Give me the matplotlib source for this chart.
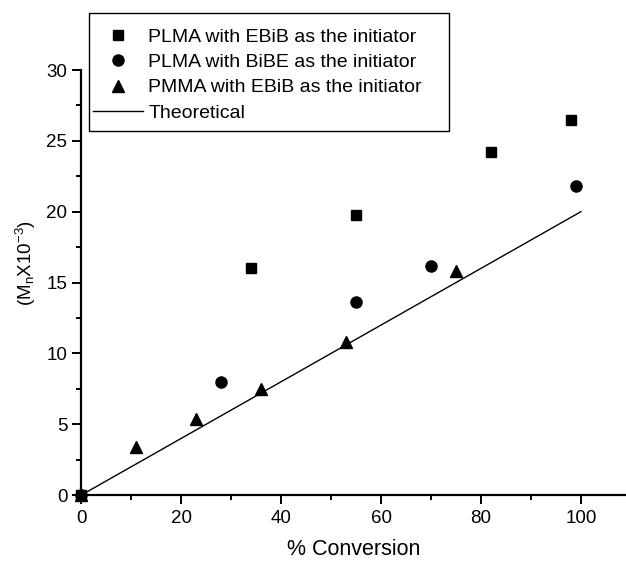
import matplotlib
matplotlib.use("Agg")
import matplotlib.pyplot as plt
from matplotlib.patches import Rectangle
from matplotlib.ticker import MultipleLocator

plt.rcParams["font.family"] = ["Liberation Sans", "DejaVu Sans"]
plt.rcParams["font.size"] = 13.5
plt.rcParams["mathtext.fontset"] = "custom"
plt.rcParams["mathtext.rm"] = "Liberation Sans"
plt.rcParams["mathtext.it"] = "Liberation Sans"

# data
conv_ebib_plma = [0, 34, 55, 82, 98]
mn_ebib_plma = [0, 16.0, 19.8, 24.2, 26.5]

conv_bibe_plma = [0, 28, 55, 70, 99]
mn_bibe_plma = [0, 8.0, 13.6, 16.2, 21.8]

conv_ebib_pmma = [0, 11, 23, 36, 53, 75]
mn_ebib_pmma = [0, 3.4, 5.4, 7.5, 10.8, 15.8]

conv_theory = [0, 100]
mn_theory = [0, 20]

fig = plt.figure(figsize=(6.26, 5.61), dpi=100)
ax = fig.add_axes([0.130, 0.1176, 0.869, 0.7576])

ax.plot(conv_ebib_plma, mn_ebib_plma, "s", color="black", markersize=7.5,
        clip_on=False, zorder=5, label="PLMA with EBiB as the initiator")
ax.plot(conv_bibe_plma, mn_bibe_plma, "o", color="black", markersize=8,
        clip_on=False, zorder=5, label="PLMA with BiBE as the initiator")
ax.plot(conv_ebib_pmma, mn_ebib_pmma, "^", color="black", markersize=8,
        clip_on=False, zorder=5, label="PMMA with EBiB as the initiator")
ax.plot(conv_theory, mn_theory, "-", color="black", linewidth=1.0,
        label="Theoretical")

ax.set_xlim(0, 108.9)
ax.set_ylim(0, 30)
ax.xaxis.set_major_locator(MultipleLocator(20))
ax.xaxis.set_minor_locator(MultipleLocator(10))
ax.yaxis.set_major_locator(MultipleLocator(5))
ax.yaxis.set_minor_locator(MultipleLocator(2.5))

ax.spines["top"].set_visible(False)
ax.spines["right"].set_visible(False)
for s in ("left", "bottom"):
    ax.spines[s].set_linewidth(1.6)
ax.tick_params(which="major", direction="out", length=6.5, width=1.4)
ax.tick_params(which="minor", direction="out", length=3.5, width=1.4)
ax.tick_params(axis="x", which="major", pad=4.5)
ax.tick_params(axis="y", which="major", pad=3.5)

ax.set_xlabel("% Conversion", fontsize=15.5)
ax.xaxis.set_label_coords(0.5, -0.103)
ax.set_ylabel(r"(M$_{\rm n}$X10$^{-3}$)", fontsize=13.5)
ax.yaxis.set_label_coords(-0.08, 0.546)

# legend without its own frame, box drawn separately like the original
leg = ax.legend(loc="upper left", bbox_to_anchor=(93 / 626, 1 - 28 / 561),
                bbox_transform=fig.transFigure, borderaxespad=0,
                frameon=False, fontsize=14,
                handlelength=2.55, handletextpad=0.3, labelspacing=0.4,
                borderpad=0)
fig.patches.append(Rectangle((89 / 626, 1 - 131 / 561), 360 / 626, 118 / 561,
                             transform=fig.transFigure, fill=False,
                             edgecolor="black", linewidth=1.0))

fig.savefig("out.png", dpi=100)
